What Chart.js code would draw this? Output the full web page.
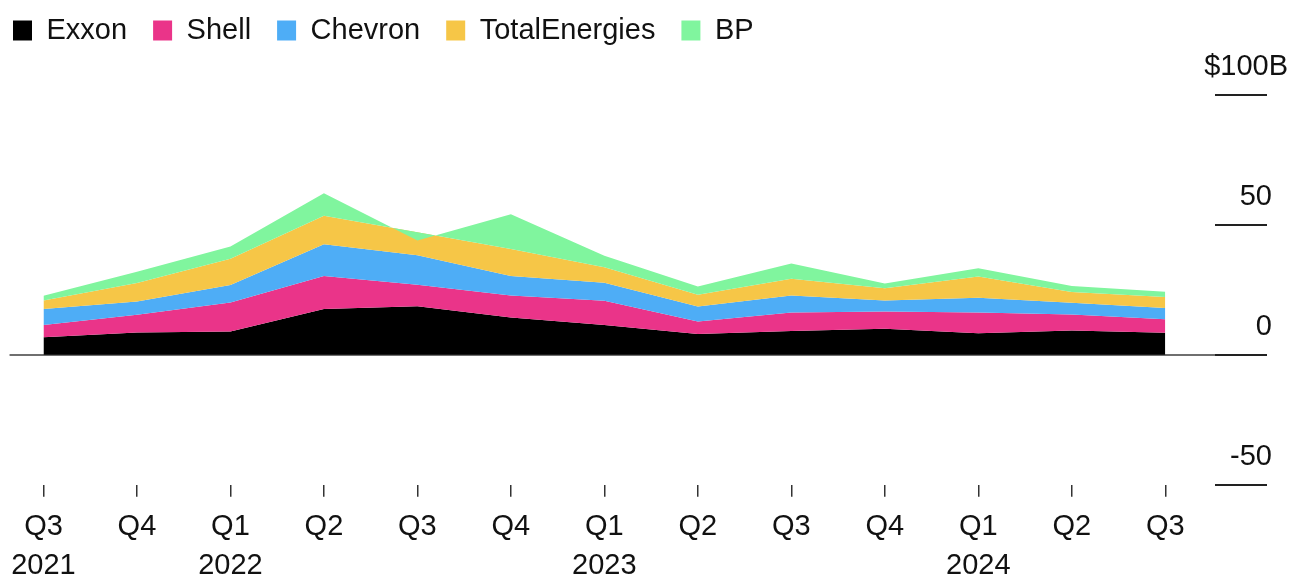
<!DOCTYPE html>
<html>
<head>
<meta charset="utf-8">
<script src="https://cdn.jsdelivr.net/npm/chart.js@4"></script>
<style>
  html, body { margin: 0; padding: 0; background: #ffffff; }
  #wrap { width: 1295px; height: 579px; position: relative; }
</style>
</head>
<body>
<div id="wrap"><canvas id="c"></canvas></div>
<script>
// ---- data (billions of USD per quarter) ----
const quarters = ['Q3','Q4','Q1','Q2','Q3','Q4','Q1','Q2','Q3','Q4','Q1','Q2','Q3'];
const years    = ['2021','','2022','','','','2023','','','','2024','',''];
const exxon    = [6.8, 8.6, 9.0, 17.6, 18.7, 14.4, 11.5, 8.0, 9.2, 10.0, 8.3, 9.4, 8.5];
const shell    = [4.7, 6.8, 11.1, 12.7, 8.3, 8.4, 9.3, 4.8, 7.1, 6.7, 8.0, 6.1, 5.2];
const chevron  = [6.1, 5.1, 6.8, 12.3, 11.3, 7.5, 6.9, 5.8, 6.5, 4.2, 5.7, 4.5, 4.3];
const total    = [3.3, 7.1, 10.1, 10.9, 8.9, 10.4, 6.0, 4.5, 6.5, 4.7, 8.1, 4.2, 4.2];
const bp       = [1.8, 4.4, 4.7, 8.7, -3.2, 13.4, 4.4, 3.2, 5.8, 1.8, 3.2, 2.3, 2.1];
const yTicks   = [-50, 0, 50, 100];

const names  = ['Exxon','Shell','Chevron','TotalEnergies','BP'];
const colors = ['#000000','#EA3489','#4EADF6','#F6C647','#80F59E'];
const series = [exxon, shell, chevron, total, bp];

// cumulative stack (built from the arrays above)
const cum = [];
series.forEach((s, k) => {
  cum.push(s.map((v, i) => v + (k > 0 ? cum[k-1][i] : 0)));
});

const FONT = '"Liberation Sans", Arial, Helvetica, sans-serif';
const FS = 29;

// datasets in reverse so the top layer (BP) is painted last
const datasets = [];
for (let k = series.length - 1; k >= 0; k--) {
  const idxInArray = series.length - 1 - k;
  datasets.push({
    label: names[k],
    data: cum[k].map((v, i) => ({x: i, y: v})),
    backgroundColor: colors[k],
    borderColor: colors[k],
    borderWidth: 0,
    pointRadius: 0,
    tension: 0,
    fill: k === 0 ? 'origin' : idxInArray + 1
  });
}

const legendShift = {
  id: 'legendShift',
  beforeDraw(chart) {
    if (chart.legend) { chart.legend.left = -13; chart.legend.top = -10; }
  }
};

new Chart(document.getElementById('c'), {
  type: 'line',
  data: { datasets },
  plugins: [legendShift],
  options: {
    responsive: true,
    maintainAspectRatio: false,
    animation: false,
    layout: { padding: { left: 8, right: -118, top: 30, bottom: -18 } },
    plugins: {
      tooltip: { enabled: false },
      legend: {
        position: 'top',
        align: 'start',
        reverse: true,
        labels: {
          boxWidth: 19, boxHeight: 20, padding: 26,
          color: '#111', font: { family: FONT, size: FS }
        }
      }
    },
    scales: {
      x: {
        type: 'linear',
        min: -0.363, max: 12.532,
        afterBuildTicks: (s) => { s.ticks = quarters.map((q, i) => ({ value: i })); },
        ticks: {
          autoSkip: false, maxRotation: 0, padding: 11, color: '#111',
          font: { family: FONT, size: FS, lineHeight: 1.35 },
          callback: (v) => years[v] ? [quarters[v], years[v]] : quarters[v]
        },
        grid: { drawOnChartArea: false, tickLength: 12, tickColor: '#333', lineWidth: 1.5 },
        border: { display: false }
      },
      y: {
        position: 'right',
        min: yTicks[0], max: yTicks[yTicks.length - 1],
        afterBuildTicks: (s) => { s.ticks = yTicks.map(v => ({ value: v })); },
        ticks: {
          mirror: true, crossAlign: 'near', labelOffset: -28, padding: 73, color: '#111',
          font: { family: FONT, size: FS },
          callback: (v) => v === 100 ? '$100B' : String(v) + '  '
        },
        grid: {
          drawOnChartArea: true,
          color: (ctx) => (ctx.tick && ctx.tick.value === 0) ? '#6f6f6f' : 'rgba(0,0,0,0)',
          tickColor: '#222', lineWidth: 2, tickLength: 52
        },
        border: { display: false }
      }
    }
  }
});
</script>
</body>
</html>
